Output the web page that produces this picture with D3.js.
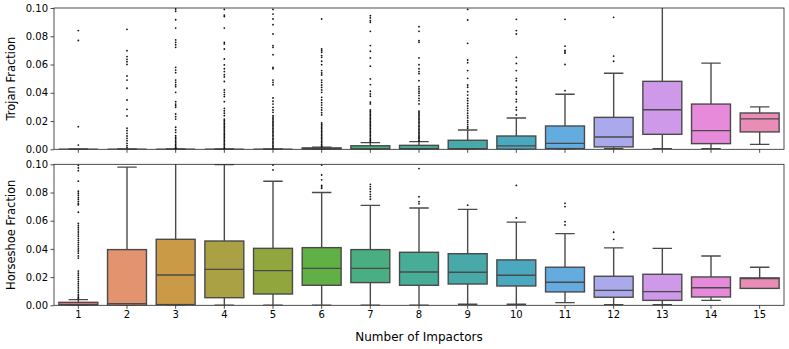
<!DOCTYPE html>
<html>
<head>
<meta charset="utf-8">
<script src="https://cdn.jsdelivr.net/npm/d3@7"></script>
<style>
  body { margin: 0; background: #fff; }
  svg { display: block; font-family: "DejaVu Sans", sans-serif; }
</style>
</head>
<body>
<svg id="chart" width="789" height="349"></svg>
<script>
// categories on the shared x axis
const impactors = ['1','2','3','4','5','6','7','8','9','10','11','12','13','14','15'];

const boxColors = ['#e2737d','#e4936f','#cb9a47','#aaa145','#91a73e','#60b045','#49ae82',
                   '#47ad96','#48aaa8','#4aa8bf','#64ace0','#a9a9eb','#ce99e8','#e78ad9','#e98db7'];

const yTicks = [0, 0.02, 0.04, 0.06, 0.08, 0.10];

// Trojan fraction box stats
const trojanQ1  = [0,0,0,0,0,0,0,0,0,0,0.0005,0.0017,0.0106,0.004,0.0123];
const trojanMed = [0,0,0,0,0,0.0002,0.0003,0.0004,0.0005,0.0024,0.0042,0.0087,0.028,0.0132,0.0215];
const trojanQ3  = [0,0,0,0,0,0.001,0.0025,0.0028,0.0064,0.0094,0.0165,0.0226,0.0481,0.032,0.0257];
const trojanLo  = [0,0,0,0,0,0,0,0,0,0,0,0.0005,0.0005,0.0005,0.0035];
const trojanHi  = [0,0,0,0,0,0.0015,0.0047,0.0054,0.0137,0.0222,0.039,0.0538,0.11,0.061,0.030];
const trojanFliers = [
  [0.084, 0.077, 0.016, 0.003],
  [0.0849, 0.0698, 0.0656, 0.0637, 0.062, 0.0601, 0.0519, 0.049, 0.0432, 0.0349, 0.0283, 0.0236,
   0.0149, 0.0132, 0.0113, 0.0094, 0.0078, 0.0061, 0.0042, 0.0026, 0.0012],
  [0.0993, 0.0977, 0.0917, 0.0858, 0.0774, 0.0757, 0.074, 0.0722, 0.058, 0.0561, 0.0542, 0.049,
   0.0474, 0.0457, 0.0443, 0.0403, 0.0337, 0.032, 0.0309, 0.0297, 0.025, 0.0231, 0.0214, 0.0156,
   0.0137, 0.012, 0.0096, 0.0085, 0.0075, 0.0065, 0.0055, 0.0045, 0.0035, 0.0025, 0.0015, 0.001, 0.0005],
  [0.099, 0.095, 0.094, 0.0858, 0.0757, 0.0746, 0.071, 0.0639, 0.0597, 0.057, 0.055, 0.0528, 0.0512,
   0.048, 0.042, 0.0403, 0.0387, 0.0373, 0.0337, 0.029, 0.0273, 0.0255, 0.0238, 0.0214, 0.0204,
   0.0194, 0.0184, 0.0174, 0.0164, 0.0154, 0.0144, 0.0134, 0.0124, 0.0114, 0.0104, 0.0094, 0.0084,
   0.0074, 0.0064, 0.0054, 0.0044, 0.0034, 0.0024, 0.0014, 0.0006],
  [0.099, 0.0957, 0.0922, 0.0882, 0.0816, 0.0734, 0.0722, 0.067, 0.058, 0.057, 0.049, 0.0474, 0.0457,
   0.0363, 0.034, 0.032, 0.0297, 0.0278, 0.0262, 0.0238, 0.0228, 0.0218, 0.0208, 0.0198, 0.0188,
   0.0178, 0.0168, 0.0158, 0.0148, 0.0138, 0.0128, 0.0118, 0.0108, 0.0098, 0.0088, 0.0078, 0.0068,
   0.0058, 0.0048, 0.0038, 0.0028, 0.0018, 0.0008],
  [0.0922, 0.071, 0.0698, 0.0686, 0.0663, 0.0651, 0.0623, 0.0599, 0.0557, 0.054, 0.0526, 0.049, 0.0474,
   0.0455, 0.0438, 0.042, 0.0403, 0.0368, 0.0349, 0.033, 0.0313, 0.0295, 0.0278, 0.0259, 0.0243,
   0.0186, 0.0176, 0.0166, 0.0156, 0.0146, 0.0136, 0.0126, 0.0116, 0.0106, 0.0096, 0.0086, 0.0076,
   0.0066, 0.0056, 0.0046, 0.0036, 0.0026, 0.0018],
  [0.0946, 0.093, 0.0911, 0.0899, 0.0835, 0.0734, 0.0694, 0.0647, 0.0588, 0.0498, 0.0458, 0.0411,
   0.0392, 0.0376, 0.0333, 0.0321, 0.0278, 0.0268, 0.0258, 0.0248, 0.0238, 0.0228, 0.0218, 0.0208,
   0.0198, 0.0188, 0.0178, 0.0168, 0.0158, 0.0148, 0.0138, 0.0128, 0.0118, 0.0108, 0.0098, 0.0088,
   0.0078, 0.0068, 0.006, 0.0053],
  [0.0868, 0.0835, 0.0769, 0.0757, 0.0647, 0.0599, 0.057, 0.055, 0.0535, 0.0486, 0.0443, 0.0427,
   0.0411, 0.0397, 0.038, 0.0361, 0.0345, 0.0321, 0.027, 0.026, 0.025, 0.024, 0.023, 0.022, 0.021,
   0.02, 0.019, 0.018, 0.017, 0.016, 0.015, 0.014, 0.013, 0.012, 0.011, 0.01, 0.009, 0.0082, 0.0075,
   0.0065, 0.0059],
  [0.099, 0.0915, 0.075, 0.0632, 0.0613, 0.0557, 0.0502, 0.0455, 0.0439, 0.0408, 0.0384, 0.036,
   0.0344, 0.0325, 0.0307, 0.029, 0.0274, 0.0255, 0.0238, 0.0222, 0.0203, 0.019, 0.0175, 0.016, 0.0149],
  [0.092, 0.084, 0.0816, 0.0651, 0.0608, 0.0557, 0.0502, 0.0486, 0.0439, 0.0408, 0.0392, 0.0354,
   0.0337, 0.0297, 0.0278, 0.0243],
  [0.0415, 0.060, 0.068, 0.069, 0.070, 0.073, 0.092],
  [0.0623, 0.066, 0.0934],
  [], [], []
];

// Horseshoe fraction box stats
const horseQ1  = [0,0,0.0005,0.0054,0.008,0.0142,0.0161,0.0142,0.0151,0.0137,0.0095,0.0057,0.0035,0.0059,0.012];
const horseMed = [0.0005,0.0012,0.0215,0.0255,0.0246,0.0262,0.0262,0.0236,0.0234,0.0213,0.0163,0.0106,0.0097,0.0125,0.019];
const horseQ3  = [0.0021,0.0395,0.0468,0.0456,0.0404,0.0409,0.0395,0.0376,0.0366,0.0322,0.027,0.0206,0.022,0.0201,0.0194];
const horseLo  = [0,0,0,0,0,0,0,0,0.0007,0.0007,0.0019,0.0005,0.0005,0.0035,0.012];
const horseHi  = [0.004,0.098,0.11,0.0998,0.088,0.080,0.0709,0.069,0.068,0.059,0.0508,0.0407,0.0404,0.035,0.027];
const horseFliers = [
  [0.0993, 0.0974, 0.0955, 0.088, 0.0809, 0.0795, 0.0781, 0.0766, 0.0752, 0.0737, 0.0723, 0.0713,
   0.066, 0.058, 0.0565, 0.055, 0.0535, 0.052, 0.0505, 0.049, 0.0475, 0.046, 0.0445, 0.043, 0.0415,
   0.04, 0.0385, 0.037, 0.035, 0.0335, 0.0243, 0.0228, 0.0213, 0.0198, 0.0183, 0.0168, 0.0153,
   0.0138, 0.0123, 0.0108, 0.0093, 0.0078, 0.0066, 0.0055, 0.0047],
  [], [], [],
  [0.0995, 0.096],
  [0.0995, 0.0924, 0.089, 0.085, 0.084, 0.083],
  [0.0858, 0.0842, 0.0825, 0.0806, 0.0787, 0.0771, 0.0752],
  [0.097, 0.077, 0.0735, 0.072],
  [0.071],
  [0.085, 0.062],
  [0.0723, 0.070, 0.0593, 0.057],
  [0.0518, 0.0468],
  [], [], []
];

const svg = d3.select('#chart');
const left = 54, right = 784;
const edgeColor = '#4a4a4a';

const x = d3.scaleBand().domain(impactors).range([left, right]).padding(0);
const boxW = x.bandwidth() * 0.8;

const panels = [
  { id: 'trojan', top: 8, bottom: 149.3, label: 'Trojan Fraction', showX: false,
    q1: trojanQ1, med: trojanMed, q3: trojanQ3, lo: trojanLo, hi: trojanHi, fliers: trojanFliers },
  { id: 'horse', top: 164.3, bottom: 305.3, label: 'Horseshoe Fraction', showX: true,
    q1: horseQ1, med: horseMed, q3: horseQ3, lo: horseLo, hi: horseHi, fliers: horseFliers }
];

panels.forEach(p => {
  const y = d3.scaleLinear().domain([0, 0.1]).range([p.bottom, p.top]);

  svg.append('clipPath').attr('id', 'clip-' + p.id)
    .append('rect')
    .attr('x', left).attr('y', p.top)
    .attr('width', right - left).attr('height', p.bottom - p.top);

  const g = svg.append('g').attr('clip-path', `url(#clip-${p.id})`);

  const rows = impactors.map((c, i) => ({
    c, i, q1: p.q1[i], med: p.med[i], q3: p.q3[i], lo: p.lo[i], hi: p.hi[i], fliers: p.fliers[i]
  }));

  const item = g.selectAll('.item').data(rows).enter().append('g').attr('class', 'item');

  // whiskers
  item.append('line')
    .attr('x1', d => x(d.c) + x.bandwidth() / 2).attr('x2', d => x(d.c) + x.bandwidth() / 2)
    .attr('y1', d => y(d.q3)).attr('y2', d => y(d.hi))
    .attr('stroke', edgeColor).attr('stroke-width', 1.4);
  item.append('line')
    .attr('x1', d => x(d.c) + x.bandwidth() / 2).attr('x2', d => x(d.c) + x.bandwidth() / 2)
    .attr('y1', d => y(d.q1)).attr('y2', d => y(d.lo))
    .attr('stroke', edgeColor).attr('stroke-width', 1.4);

  // caps
  ['hi', 'lo'].forEach(k => {
    item.append('line')
      .attr('x1', d => x(d.c) + x.bandwidth() / 2 - boxW / 4)
      .attr('x2', d => x(d.c) + x.bandwidth() / 2 + boxW / 4)
      .attr('y1', d => y(d[k])).attr('y2', d => y(d[k]))
      .attr('stroke', edgeColor).attr('stroke-width', 1.4);
  });

  // boxes
  item.append('rect')
    .attr('x', d => x(d.c) + (x.bandwidth() - boxW) / 2)
    .attr('width', boxW)
    .attr('y', d => y(d.q3))
    .attr('height', d => y(d.q1) - y(d.q3))
    .attr('fill', (d, i) => boxColors[i])
    .attr('stroke', edgeColor).attr('stroke-width', 1.4);

  // median
  item.append('line')
    .attr('x1', d => x(d.c) + (x.bandwidth() - boxW) / 2)
    .attr('x2', d => x(d.c) + (x.bandwidth() + boxW) / 2)
    .attr('y1', d => y(d.med)).attr('y2', d => y(d.med))
    .attr('stroke', edgeColor).attr('stroke-width', 1.4);

  // outliers
  item.selectAll('.flier')
    .data(d => d.fliers.map(v => ({ c: d.c, v })))
    .enter().append('circle')
    .attr('class', 'flier')
    .attr('cx', d => x(d.c) + x.bandwidth() / 2)
    .attr('cy', d => y(d.v))
    .attr('r', 0.9)
    .attr('fill', '#111');

  // frame
  svg.append('rect')
    .attr('x', left).attr('y', p.top)
    .attr('width', right - left).attr('height', p.bottom - p.top)
    .attr('fill', 'none').attr('stroke', '#222').attr('stroke-width', 0.8);

  // y axis
  const yAxis = svg.append('g')
    .attr('transform', `translate(${left},0)`)
    .call(d3.axisLeft(y).tickValues(yTicks).tickFormat(d3.format('.2f')).tickSize(3.5).tickPadding(2.5));
  yAxis.select('.domain').remove();
  yAxis.selectAll('text').attr('font-size', 10).attr('fill', '#000').attr('font-family', 'DejaVu Sans');
  yAxis.selectAll('line').attr('stroke', '#222').attr('stroke-width', 0.8);

  // x axis
  const xAxis = svg.append('g')
    .attr('transform', `translate(0,${p.bottom})`)
    .call(d3.axisBottom(x).tickSize(3.5).tickPadding(2.5));
  xAxis.select('.domain').remove();
  xAxis.selectAll('line').attr('stroke', '#222').attr('stroke-width', 0.8);
  if (p.showX) {
    xAxis.selectAll('text').attr('font-size', 10).attr('fill', '#000').attr('font-family', 'DejaVu Sans');
  } else {
    xAxis.selectAll('text').remove();
  }

  svg.append('text')
    .attr('transform', `translate(15,${(p.top + p.bottom) / 2}) rotate(-90)`)
    .attr('text-anchor', 'middle')
    .attr('font-size', 11.5)
    .attr('fill', '#000')
    .text(p.label);
});

svg.append('text')
  .attr('x', (left + right) / 2)
  .attr('y', 341)
  .attr('text-anchor', 'middle')
  .attr('font-size', 12)
  .attr('fill', '#000')
  .text('Number of Impactors');
</script>
</body>
</html>
